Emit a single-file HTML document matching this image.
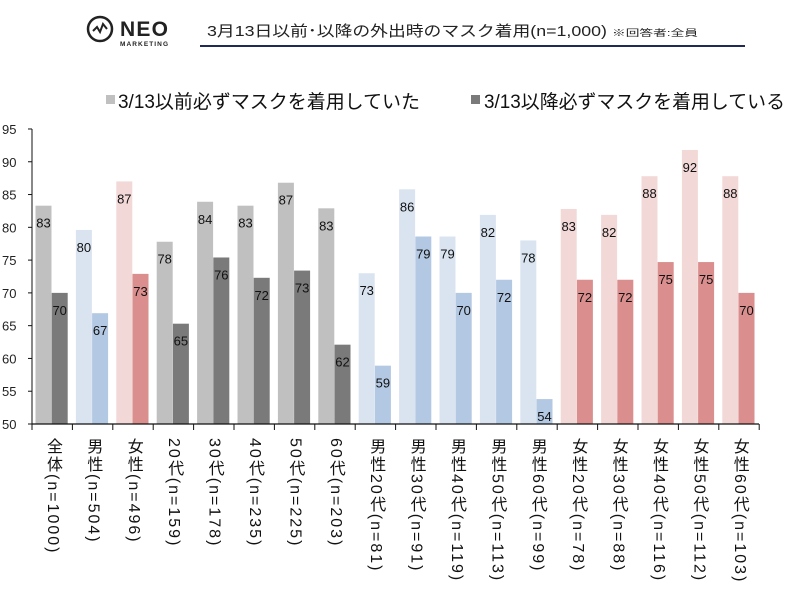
<!DOCTYPE html>
<html><head><meta charset="utf-8"><style>
body{margin:0;background:#fff;}
#c{position:relative;width:800px;height:594px;overflow:hidden;background:#fff;font-family:"Liberation Sans","Noto Sans CJK JP",sans-serif;}
.xl{position:absolute;top:438px;writing-mode:vertical-rl;font-size:16px;line-height:16px;color:#111;white-space:nowrap;letter-spacing:2px;}
</style></head><body><div id="c">
<svg width="800" height="594" style="position:absolute;left:0;top:0" id="s">
<circle cx="100" cy="29" r="12" fill="none" stroke="#222" stroke-width="2.5"/>
<polyline points="93,31 97,27 100,32 103,24 107,29" fill="none" stroke="#222" stroke-width="2"/>
<text x="120" y="36" font-family="Liberation Sans" font-weight="bold" font-size="21" textLength="48" lengthAdjust="spacing" fill="#222">NEO</text>
<text x="120" y="46" font-family="Liberation Sans" font-weight="bold" font-size="6.5" textLength="48" fill="#222">MARKETING</text>
<text x="207" y="36" font-family="Liberation Sans, Noto Sans CJK JP, sans-serif" font-size="15" fill="#222" textLength="400" lengthAdjust="spacingAndGlyphs">3月13日以前･以降の外出時のマスク着用(n=1,000)</text>
<text x="612" y="36" font-family="Liberation Sans, Noto Sans CJK JP, sans-serif" font-size="9" fill="#222" textLength="86" lengthAdjust="spacingAndGlyphs">※回答者:全員</text>
<line x1="200" y1="46" x2="745" y2="46" stroke="#1f2a55" stroke-width="2"/>
<rect x="106" y="95" width="9" height="9" fill="#c0c0c0"/>
<text x="118" y="108" font-family="Liberation Sans, Noto Sans CJK JP, sans-serif" font-size="19" fill="#111" textLength="302" lengthAdjust="spacingAndGlyphs">3/13以前必ずマスクを着用していた</text>
<rect x="471" y="95" width="9" height="9" fill="#7a7a7a"/>
<text x="484" y="108" font-family="Liberation Sans, Noto Sans CJK JP, sans-serif" font-size="19" fill="#111" textLength="301" lengthAdjust="spacingAndGlyphs">3/13以降必ずマスクを着用している</text>
<g id="bars"></g>
<line x1="32" y1="129" x2="32" y2="424" stroke="#111" stroke-width="1"/>
<line x1="32" y1="424" x2="759" y2="424" stroke="#111" stroke-width="1.2"/>
<g id="yt" font-family="Liberation Sans, sans-serif" font-size="13" fill="#222"></g>
</svg>
<div id="xls"></div>
</div>
<script>
const NS="http://www.w3.org/2000/svg";
const d=[[83.3,70,'g'],[79.6,66.9,'b'],[87,72.9,'r'],[77.8,65.3,'g'],[83.9,75.4,'g'],[83.3,72.3,'g'],[86.8,73.4,'g'],[82.9,62.1,'g'],[73,58.9,'b'],[85.8,78.6,'b'],[78.6,70,'b'],[81.9,72,'b'],[78,53.8,'b'],[82.8,72,'r'],[81.9,72,'r'],[87.8,74.7,'r'],[91.8,74.7,'r'],[87.8,70,'r']];
const lab=[[83,70],[80,67],[87,73],[78,65],[84,76],[83,72],[87,73],[83,62],[73,59],[86,79],[79,70],[82,72],[78,54],[83,72],[82,72],[88,75],[92,75],[88,70]];
const names=['全体(n=1000)','男性(n=504)','女性(n=496)','20代(n=159)','30代(n=178)','40代(n=235)','50代(n=225)','60代(n=203)','男性20代(n=81)','男性30代(n=91)','男性40代(n=119)','男性50代(n=113)','男性60代(n=99)','女性20代(n=78)','女性30代(n=88)','女性40代(n=116)','女性50代(n=112)','女性60代(n=103)'];
const col={g:['#c0c0c0','#7a7a7a'],b:['#dae4f1','#b3c8e2'],r:['#f3d8d8','#da8e8e']};
const Y=v=>424-(v-50)*6.556;
const g=document.getElementById('bars');
function el(t,a,p){const e=document.createElementNS(NS,t);for(const k in a)e.setAttribute(k,a[k]);(p||g).appendChild(e);return e;}
let html='';
d.forEach((r,i)=>{const x0=32+40.4*i;
 [0,1].forEach(j=>{const x=x0+3.5+j*16.2;const y=Y(r[j]);
  el('rect',{x:x,y:y,width:16,height:424-y,fill:col[r[2]][j]});
  const t=el('text',{x:x+8,y:y+22,'text-anchor':'middle','font-family':'Liberation Sans, sans-serif','font-size':13,fill:'#111'});t.textContent=lab[i][j];});
 el('line',{x1:x0+40.4,y1:424,x2:x0+40.4,y2:430,stroke:'#111','stroke-width':1});
 html+=`<div class="xl" style="left:${x0+12}px">${names[i]}</div>`;
});
el('line',{x1:32,y1:424,x2:32,y2:430,stroke:'#111'});
document.getElementById('xls').innerHTML=html;
const yt=document.getElementById('yt');
for(let v=50;v<=95;v+=5){const y=Y(v);const t=el('text',{x:2,y:y+5},yt);t.textContent=v;el('line',{x1:28,y1:y,x2:32,y2:y,stroke:'#111'});}
</script>
</body></html>
